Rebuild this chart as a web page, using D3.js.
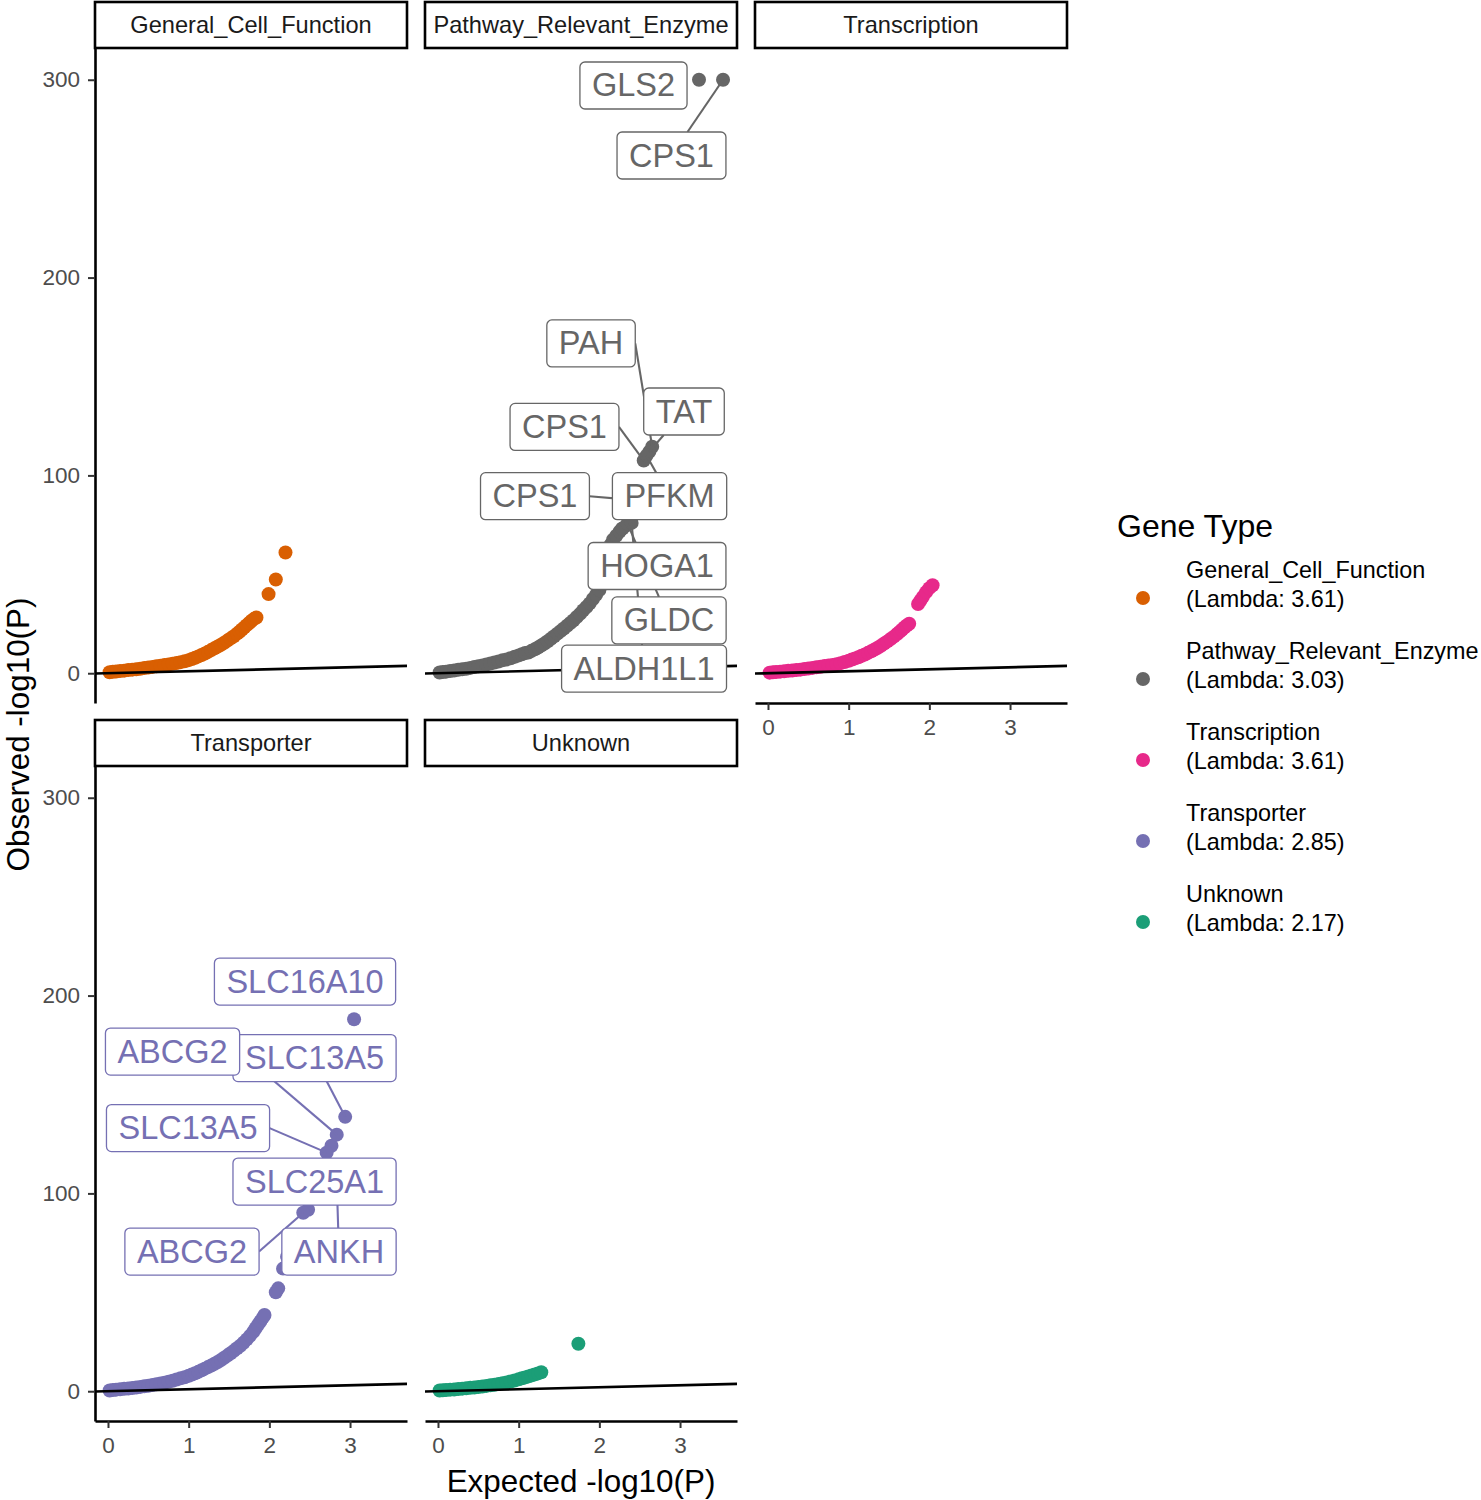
<!DOCTYPE html>
<html><head><meta charset="utf-8">
<script src="https://cdn.jsdelivr.net/npm/d3@7"></script>
<style>body{margin:0;background:#fff} svg{display:block}</style>
</head><body>
<svg id="chart" width="1481" height="1500"></svg>
<script>
// ---------------- DATA ----------------
const categories = ["General_Cell_Function","Pathway_Relevant_Enzyme","Transcription","Transporter","Unknown"];
const lambdas = [3.61, 3.03, 3.61, 2.85, 2.17];
const xTicks = [0, 1, 2, 3];
const yTicks = [0, 100, 200, 300];

const gcfExpected = [0.02,0.06,0.10,0.15,0.20,0.25,0.30,0.35,0.40,0.45,0.50,0.55,0.60,0.65,0.70,0.75,0.80,0.85,0.90,0.95,1.00,1.04,1.08,1.12,1.16,1.20,1.24,1.28,1.32,1.36,1.40,1.44,1.48,1.52,1.56,1.60,1.63,1.66,1.69,1.72,1.75,1.78,1.81,1.84,1.99,2.08,2.20];
const gcfObserved = [0.5,0.7,0.9,1.1,1.3,1.6,1.8,2.0,2.3,2.6,2.9,3.2,3.5,3.8,4.1,4.4,4.8,5.2,5.6,6.0,6.6,7.2,7.8,8.5,9.2,10.0,10.8,11.7,12.6,13.5,14.4,15.4,16.5,17.6,18.7,20.0,21.0,22.1,23.2,24.3,25.4,26.5,27.5,28.2,40.0,47.4,61.0];

const preExpected = [0.02,0.06,0.10,0.15,0.20,0.25,0.30,0.35,0.40,0.45,0.50,0.55,0.60,0.65,0.70,0.75,0.80,0.85,0.90,0.95,1.00,1.04,1.08,1.12,1.16,1.20,1.24,1.28,1.32,1.36,1.40,1.44,1.48,1.52,1.56,1.60,1.64,1.68,1.72,1.76,1.80,1.84,1.88,1.92,1.96,2.00,2.03,2.06,2.08,2.10,2.12,2.14,2.17,2.21,2.25,2.29,2.33,2.37];
const preObserved = [0.4,0.6,0.8,1.1,1.4,1.7,2.0,2.3,2.7,3.1,3.5,3.9,4.4,4.9,5.4,5.9,6.5,7.0,7.6,8.3,9.0,9.6,10.2,10.5,11.3,12.1,13.0,14.0,15.0,16.2,17.4,18.7,20.0,21.3,22.6,24.0,25.4,26.8,28.4,30.0,31.8,33.5,35.3,37.5,39.7,42.0,45.0,49.0,53.0,57.0,61.0,65.0,67.5,69.5,71.5,73.2,74.6,75.7];

const traExpected = [0.02,0.06,0.10,0.15,0.20,0.25,0.30,0.35,0.40,0.45,0.50,0.55,0.60,0.65,0.70,0.75,0.80,0.85,0.90,0.95,1.00,1.04,1.08,1.12,1.16,1.20,1.24,1.28,1.32,1.36,1.40,1.44,1.48,1.52,1.56,1.60,1.63,1.66,1.69,1.72,1.75,1.86,1.89,1.92,1.96,2.00,2.04];
const traObserved = [0.3,0.5,0.6,0.8,1.0,1.2,1.4,1.6,1.8,2.1,2.4,2.7,3.0,3.3,3.6,3.9,4.2,4.6,5.1,5.7,6.3,6.9,7.5,8.1,8.8,9.5,10.3,11.1,12.0,12.9,13.9,15.0,16.1,17.3,18.5,19.8,20.9,22.0,23.1,24.1,25.0,35.0,36.8,38.6,41.0,43.0,44.5];

const trpExpected = [0.02,0.06,0.10,0.15,0.20,0.25,0.30,0.35,0.40,0.45,0.50,0.55,0.60,0.65,0.70,0.75,0.80,0.85,0.90,0.95,1.00,1.04,1.08,1.12,1.16,1.20,1.24,1.28,1.32,1.36,1.40,1.44,1.48,1.52,1.56,1.60,1.64,1.68,1.72,1.76,1.80,1.83,1.86,1.89,1.92,1.94,2.08,2.11,2.17,2.22,2.30,2.48,2.77];
const trpObserved = [0.4,0.6,0.8,1.0,1.2,1.4,1.6,1.9,2.2,2.5,2.8,3.1,3.5,3.9,4.3,4.8,5.3,5.9,6.5,7.1,7.8,8.4,9.1,9.8,10.6,11.4,12.2,13.0,13.9,14.8,15.8,16.9,18.0,19.2,20.4,21.7,23.0,24.5,26.2,28.0,30.0,31.8,33.6,35.4,37.2,38.5,50.0,52.0,62.0,68.0,78.0,91.7,124.1];

const unkExpected = [0.02,0.06,0.10,0.15,0.20,0.25,0.30,0.35,0.40,0.45,0.50,0.55,0.60,0.65,0.70,0.75,0.80,0.85,0.90,0.95,1.00,1.04,1.08,1.12,1.16,1.20,1.24,1.28,1.74];
const unkObserved = [0.4,0.5,0.6,0.8,0.9,1.1,1.3,1.5,1.7,1.9,2.1,2.4,2.7,3.0,3.3,3.6,4.0,4.4,4.9,5.4,6.0,6.5,7.0,7.5,8.0,8.5,9.0,9.6,24.0];

// labelled genes (points and label centres, in data units)
const labelGenes    = ["GLS2","CPS1","PAH","TAT","CPS1","PFKM","CPS1","HOGA1","GLDC","ALDH1L1",
                       "SLC16A10","SLC13A5","ABCG2","SLC13A5","SLC25A1","ABCG2","ANKH"];
const labelCategory = ["Pathway_Relevant_Enzyme","Pathway_Relevant_Enzyme","Pathway_Relevant_Enzyme","Pathway_Relevant_Enzyme","Pathway_Relevant_Enzyme","Pathway_Relevant_Enzyme","Pathway_Relevant_Enzyme","Pathway_Relevant_Enzyme","Pathway_Relevant_Enzyme","Pathway_Relevant_Enzyme",
                       "Transporter","Transporter","Transporter","Transporter","Transporter","Transporter","Transporter"];
const labelExpected = [3.235,3.533,2.655,2.62,2.55,2.585,2.30,2.28,2.35,2.40,
                       3.05,2.94,2.835,2.71,2.60,2.42,2.84];
const labelObserved = [300,300,114.5,112,107.5,110,88,73,75.5,76,
                       188,138.7,129.7,120.6,104,90.2,99.3];
const labelAtX      = [2.423,2.894,1.897,3.049,1.568,2.870,1.202,2.715,2.863,2.554,
                       2.442,2.560,0.80,0.992,2.560,1.041,2.863];
const labelAtY      = [297.1,261.7,166.7,132.3,124.5,89.5,89.5,54.2,26.7,2.3,
                       207.1,168.4,171.7,133.0,106.0,70.6,70.6];

const seriesExpected = [gcfExpected, preExpected, traExpected, trpExpected, unkExpected];
const seriesObserved = [gcfObserved, preObserved, traObserved, trpObserved, unkObserved];

// ---------------- LAYOUT ----------------
const FONT = "'Liberation Sans', Arial, Helvetica, sans-serif";
const W = 312, H = 655, STRIP = 46;
const colX = [95, 425, 755], rowY = [48, 766];
const panelCell = [[0,0],[1,0],[2,0],[0,1],[1,1]];
const R = 7;

const svg = d3.select("#chart").style("font-family", FONT);
const x = d3.scaleLinear().domain([-0.161, 3.706]).range([0, W]);
const y = d3.scaleLinear().domain([-15.05, 316.05]).range([H, 0]);
const color = d3.scaleOrdinal().domain(categories)
  .range(["#D95F02","#666666","#E7298A","#7570B3","#1B9E77"]);

svg.append("defs").append("clipPath").attr("id","pclip")
  .append("rect").attr("x",0).attr("y",0).attr("width",W).attr("height",H);

categories.forEach((cat, i) => {
  const [c, r] = panelCell[i];
  const g = svg.append("g").attr("transform", `translate(${colX[c]},${rowY[r]})`);

  // strip
  g.append("rect").attr("x", 0).attr("y", -STRIP).attr("width", W).attr("height", STRIP)
    .attr("fill", "#fff").attr("stroke", "#000").attr("stroke-width", 2.6);
  g.append("text").attr("x", W/2).attr("y", -STRIP/2).attr("text-anchor","middle")
    .attr("dominant-baseline","central").attr("font-size", 23.6).attr("fill","#1A1A1A").text(cat);

  // points
  const pts = seriesExpected[i].map((e, k) => [e, seriesObserved[i][k]]);
  labelGenes.forEach((gname, k) => {
    if (labelCategory[k] === cat) pts.push([labelExpected[k], labelObserved[k]]);
  });
  const pg = g.append("g").attr("clip-path","url(#pclip)");
  pg.selectAll("circle").data(pts).join("circle")
    .attr("cx", d => x(d[0])).attr("cy", d => y(d[1])).attr("r", R)
    .attr("fill", color(cat));

  // y = x reference line
  const dom = x.domain();
  pg.append("line").attr("x1", x(dom[0])).attr("y1", y(dom[0]))
    .attr("x2", x(dom[1])).attr("y2", y(dom[1]))
    .attr("stroke", "#000").attr("stroke-width", 2.6);

  // axes
  if (c === 0) {
    const ax = g.append("g").call(d3.axisLeft(y).tickValues(yTicks).tickSize(7).tickSizeOuter(0).tickPadding(8));
    styleAxis(ax);
  }
  const hasBelow = (r === 0 && c < 2);
  if (!hasBelow) {
    const ax = g.append("g").attr("transform", `translate(0,${H})`)
      .call(d3.axisBottom(x).tickValues(xTicks).tickFormat(d3.format("d")).tickSize(7).tickSizeOuter(0).tickPadding(9));
    styleAxis(ax);
  }
});

function styleAxis(ax) {
  ax.select(".domain").attr("stroke", "#000").attr("stroke-width", 2.6);
  ax.selectAll(".tick line").attr("stroke", "#333").attr("stroke-width", 2);
  ax.selectAll(".tick text").attr("font-size", 22.5).attr("fill", "#4D4D4D").attr("font-family", FONT);
}

// ---------------- REPEL-STYLE LABELS ----------------
const LFS = 32.5, LPADX = 12, LH = 47, MINSEG = 16;
const segLayer = svg.append("g");
const boxLayer = svg.append("g");
labelGenes.forEach((gname, k) => {
  const cat = labelCategory[k];
  const i = categories.indexOf(cat);
  const [c, r] = panelCell[i];
  const ox = colX[c], oy = rowY[r];
  const col = color(cat);
  const cx = ox + x(labelAtX[k]), cy = oy + y(labelAtY[k]);
  const px = ox + x(labelExpected[k]), py = oy + y(labelObserved[k]);

  const lg = boxLayer.append("g");
  const rect = lg.append("rect");
  const t = lg.append("text").attr("x", cx).attr("y", cy).attr("text-anchor","middle")
    .attr("dominant-baseline","central").attr("font-size", LFS).attr("fill", col).text(gname);
  const tw = t.node().getComputedTextLength();
  const bw = tw + 2*LPADX;
  const b = {x0: cx - bw/2, x1: cx + bw/2, y0: cy - LH/2, y1: cy + LH/2, cx, cy};
  rect.attr("x", b.x0).attr("y", b.y0).attr("width", bw).attr("height", LH)
    .attr("rx", 5).attr("ry", 5).attr("fill", "#fff").attr("stroke", col).attr("stroke-width", 1.3);

  // segment from the box edge to the point
  const inside = px >= b.x0 && px <= b.x1 && py >= b.y0 && py <= b.y1;
  if (!inside) {
    const nx = Math.max(b.x0, Math.min(px, b.x1)), ny = Math.max(b.y0, Math.min(py, b.y1));
    const nd = Math.hypot(px - nx, py - ny);
    if (nd >= MINSEG) {
      let sx, sy;
      if (px < b.x0) { sx = b.x0; sy = b.cy; }
      else if (px > b.x1) { sx = b.x1; sy = b.cy; }
      else {
        sy = py < b.y0 ? b.y0 : b.y1;
        const tt = (sy - b.cy) / (py - b.cy);
        sx = b.cx + tt * (px - b.cx);
      }
      segLayer.append("line").attr("x1", sx).attr("y1", sy).attr("x2", px).attr("y2", py)
        .attr("stroke", col).attr("stroke-width", 2.1);
    }
  }
});

// ---------------- AXIS TITLES ----------------
svg.append("text").attr("x", (colX[0] + colX[2] + W)/2).attr("y", 1481)
  .attr("text-anchor","middle").attr("dominant-baseline","central")
  .attr("font-size", 31.4).attr("fill","#000").text("Expected -log10(P)");
svg.append("text").attr("transform", `translate(18,${(rowY[0] + rowY[1] + H)/2}) rotate(-90)`)
  .attr("text-anchor","middle").attr("dominant-baseline","central")
  .attr("font-size", 31.4).attr("fill","#000").text("Observed -log10(P)");

// ---------------- LEGEND ----------------
const lgd = svg.append("g");
lgd.append("text").attr("x", 1117).attr("y", 526).attr("dominant-baseline","central")
  .attr("font-size", 32).attr("fill","#000").text("Gene Type");
categories.forEach((cat, i) => {
  const base = 570 + i*81;
  lgd.append("circle").attr("cx", 1143).attr("cy", base + 28).attr("r", 7).attr("fill", color(cat));
  lgd.append("text").attr("x", 1186).attr("y", base).attr("dominant-baseline","central")
    .attr("font-size", 23.4).attr("fill","#000").text(cat);
  lgd.append("text").attr("x", 1186).attr("y", base + 29).attr("dominant-baseline","central")
    .attr("font-size", 23.4).attr("fill","#000").text(`(Lambda: ${lambdas[i].toFixed(2)})`);
});
</script>
</body></html>
